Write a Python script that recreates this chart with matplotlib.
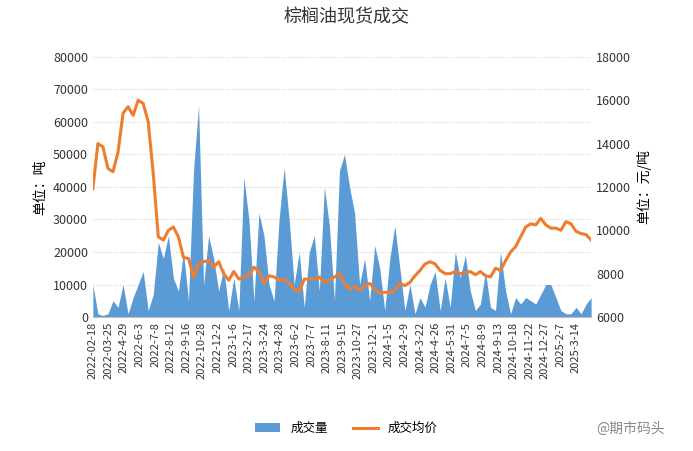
import numpy as np
import matplotlib.pyplot as plt

plt.rcParams['font.family'] = ['Noto Sans CJK SC', 'DejaVu Sans']

# trading volume (tons) and average price (yuan/ton)
volume = [10, 1, 0.5, 1, 5, 3, 10, 1, 6, 10, 14, 2, 7, 23, 18, 25, 12, 8, 20, 5,
          45, 65, 10, 25, 18, 8, 15, 2, 12, 2, 43, 30, 5, 32, 25, 10, 5, 30, 46, 30,
          10, 20, 3, 20, 25, 8, 40, 28, 5, 45, 50, 40, 32, 10, 18, 5, 22, 15, 2, 18,
          28, 15, 2, 10, 1, 6, 3, 10, 14, 2, 12, 3, 20, 12, 19, 8, 2, 4, 14, 3,
          2, 20, 8, 1, 6, 4, 6, 5, 4, 7, 10, 10, 6, 2, 1, 1, 3, 1, 4, 6]
volume = [v * 1000 for v in volume]
price = [11920, 14000, 13850, 12850, 12700, 13600, 15400, 15700, 15300, 16000,
         15850, 15000, 12600, 9700, 9550, 10000, 10150, 9700, 8750, 8700,
         7850, 8450, 8550, 8600, 8300, 8550, 8000, 7700, 8100, 7750,
         7850, 7900, 8300, 8100, 7550, 7900, 7850, 7700, 7750, 7550,
         7300, 7150, 7750, 7750, 7750, 7850, 7600, 7700, 7850, 8000,
         7550, 7300, 7400, 7250, 7450, 7550, 7300, 7100, 7150, 7100,
         7250, 7550, 7450, 7600, 7900, 8150, 8450, 8550, 8450, 8150,
         8000, 8000, 8100, 8000, 8050, 8100, 7950, 8100, 7900, 7850,
         8250, 8150, 8600, 9000, 9250, 9700, 10150, 10300, 10250, 10550,
         10250, 10100, 10100, 10000, 10400, 10300, 9950, 9850, 9800, 9550]
tick_labels = ['2022-02-18', '2022-03-25', '2022-4-29', '2022-6-3', '2022-7-8',
               '2022-8-12', '2022-9-16', '2022-10-28', '2022-12-2', '2023-1-6',
               '2023-2-17', '2023-3-24', '2023-4-28', '2023-6-2', '2023-7-7',
               '2023-8-11', '2023-9-15', '2023-10-27', '2023-12-1', '2024-1-5',
               '2024-2-9', '2024-3-22', '2024-4-26', '2024-5-31', '2024-7-5',
               '2024-8-9', '2024-9-13', '2024-10-18', '2024-11-22', '2024-12-27',
               '2025-2-7', '2025-3-14']

x = np.arange(len(volume))
fig = plt.figure(figsize=(6.93, 4.51), dpi=100)
ax = fig.add_axes([0.134, 0.297, 0.719, 0.577])
ax.fill_between(x, volume, color='#5B9BD5', lw=0, label='成交量')
ax.set_ylim(0, 80000)
ax.set_xlim(0, len(x) - 1)
ax.set_yticks(range(0, 80001, 10000))
ax.grid(axis='y', color='#d0d0d0', ls=':', lw=0.8)
ax.set_axisbelow(True)
ax.set_ylabel('单位：吨', fontsize=10)
ax.set_xticks(np.linspace(0, 96, len(tick_labels)))
ax.set_xticklabels(tick_labels, rotation=90, fontsize=8)

ax2 = ax.twinx()
ax2.plot(x, price, color='#ED7D31', lw=2.2, label='成交均价')
ax2.set_ylim(6000, 18000)
ax2.set_yticks(range(6000, 18001, 2000))
ax2.set_ylabel('单位：元/吨', fontsize=10)

for a in (ax, ax2):
    for s in a.spines.values():
        s.set_visible(False)
    a.tick_params(length=0, labelsize=9, colors='#333333')
ax.tick_params(axis='x', labelsize=8)
ax.spines['bottom'].set_visible(True)
ax.spines['bottom'].set_color('#bfbfbf')

fig.text(0.5, 0.95, '棕榈油现货成交', ha='center', fontsize=13, color='#333333')
h1, l1 = ax.get_legend_handles_labels()
h2, l2 = ax2.get_legend_handles_labels()
fig.legend(h1 + h2, l1 + l2, loc='center', bbox_to_anchor=(0.5, 0.05), ncol=2,
           frameon=False, fontsize=9)
fig.text(0.86, 0.04, '@期市码头', fontsize=10, color='#888888')
fig.savefig('out.png', dpi=100)
